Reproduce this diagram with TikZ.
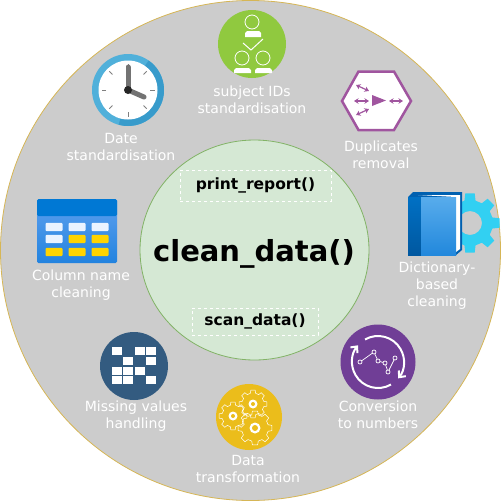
\documentclass[tikz,border=0pt]{standalone}
\usepackage{fontspec}
\setmainfont{DejaVu Sans}
\usepackage{xcolor}
\usetikzlibrary{arrows.meta}
\definecolor{ringfill}{HTML}{CCCCCC}
\definecolor{ringline}{HTML}{D6B656}
\definecolor{corefill}{HTML}{D5E8D4}
\definecolor{coreline}{HTML}{82B366}
\definecolor{idgreen}{HTML}{90C93F}
\definecolor{dupviolet}{HTML}{A0559F}
\definecolor{convviolet}{HTML}{703E96}
\definecolor{gearyellow}{HTML}{EBBD1B}
\definecolor{missblue}{HTML}{335B80}
\definecolor{gearcyan}{HTML}{32D0F2}
\definecolor{clocklight}{HTML}{50B0DA}
\definecolor{clockdark}{HTML}{389BCB}
\definecolor{bookdark}{HTML}{0060B0}
\definecolor{spinetop}{HTML}{0070C4}
\definecolor{spinebot}{HTML}{0058A0}
\definecolor{covertop}{HTML}{58ACEC}
\definecolor{coverbot}{HTML}{2288DC}
\definecolor{tabletop}{HTML}{5EA0EF}
\definecolor{tablebot}{HTML}{2283DF}
\definecolor{tablehead}{HTML}{0078D4}
\definecolor{cellpale}{HTML}{EAF3FF}
\definecolor{cellgold}{HTML}{FFD400}
\tikzset{
  steplabel/.style={text=white,align=center,inner sep=0pt,font=\fontsize{14}{17}\selectfont},
  funcbox/.style={draw=white,dashed,line width=0.5pt,inner sep=0pt,font=\fontsize{15.5}{18}\bfseries\selectfont},
  whiteline/.style={draw=white,line width=0.8pt},
}
% toothed wheel, path only, round the current origin
\newcommand{\cogpath}[2]{(-14:#2) \foreach \a in {0,45,...,315} {-- (\a-14:#2) -- (\a-9:#1) -- (\a+9:#1) -- (\a+14:#2)} -- cycle}
\begin{document}
\begin{tikzpicture}[x=1pt,y=-1pt]
\useasboundingbox (0,0) rectangle (501,501);
\draw[fill=ringfill,draw=ringline,line width=0.8pt] (250.5,250.5) circle [radius=250];
\draw[fill=corefill,draw=coreline,line width=0.8pt] (254.5,250) ellipse [x radius=114.5,y radius=110];
% centre texts
\node[inner sep=0pt,font=\fontsize{29}{34}\bfseries\selectfont] (clean) at (254,254) {clean\_data()};
\node[funcbox,minimum width=151pt,minimum height=31pt] (report) at (255.5,185.5) {print\_report()};
\node[funcbox,minimum width=126pt,minimum height=27pt] (scan) at (255,321.5) {scan\_data()};
% subject ids
\fill[idgreen] (252,44) circle [radius=34];
\draw[whiteline] (252,22) circle [radius=7] (242,58) circle [radius=7] (263,58) circle [radius=7];
\fill[white] (245,37) -- (245,33) -- (247,31) -- (259,31) -- (261,33) -- (261,37) -- cycle;
\fill[white] (234,73) -- (234,70) -- (236,68) -- (249,68) -- (251,70) -- (251,73) -- cycle;
\fill[white] (255,73) -- (255,70) -- (257,68) -- (270,68) -- (272,70) -- (272,73) -- cycle;
\draw[white,line width=1pt] (243,43) -- (251,50) -- (263,39);
\node[steplabel] (ids) at (252,99.5) {subject IDs\\standardisation};
% clock
\fill[clocklight] (128,90) circle [radius=36];
\fill[clockdark] (128,90) ++(-55:36) arc [start angle=-55,end angle=105,radius=36] -- (128,90) -- cycle;
\fill[white] (128,90) circle [radius=29.5];
\foreach \a in {0,45,...,315}
  \draw[gray,line width=1pt] (128,90) ++(\a:22) -- ++(\a:4.5);
\draw[black!55,line width=5pt,line cap=round] (128,90) -- (128,67);
\draw[black!55,line width=5pt,line cap=round] (128,90) -- (144,97);
\fill[black!85] (128,90) circle [radius=4];
\node[steplabel] (date) at (121,146.5) {Date\\standardisation};
% duplicates
\draw[dupviolet,fill=white,line width=2.5pt] (342,101) -- (358.5,71.5) -- (394,71.5) -- (411,101) -- (394,130) -- (358.5,130) -- cycle;
\fill[dupviolet] (372,95) -- (386,100.5) -- (372,106) -- cycle;
\foreach \xa/\ya/\xb/\yb in {354/101/369/101,389/101/403/101,356/85/369/91,356/115/369/109}
  \draw[dupviolet,line width=1.2pt,{Stealth[length=4.5pt,width=5.5pt]}-{Stealth[length=4.5pt,width=5.5pt]}] (\xa,\ya) -- (\xb,\yb);
\node[steplabel] (dups) at (381,154.5) {Duplicates\\removal};
% dictionary
\begin{scope}[shift={(470,223)}]
\fill[gearcyan,even odd rule] \cogpath{30}{23} (0,0) circle [radius=12];
\end{scope}
\fill[bookdark] (408,197) -- (413,192) -- (462,192) -- (462,250) -- (456,255) -- (408,255) -- cycle;
\fill[white] (418,195) -- (460,195) -- (460,249) -- (456,252) -- (456,197) -- cycle;
\shade[top color=spinetop,bottom color=spinebot] (408,197) rectangle (421,255);
\shade[top color=covertop,bottom color=coverbot] (421,197) rectangle (456,255);
\node[steplabel] (dict) at (437,286) {Dictionary-\\based\\cleaning};
% conversion
\fill[convviolet] (378,362) circle [radius=37.5];
\draw[white,line width=2pt,-{Straight Barb[length=5pt,width=9pt]}] (378,362) ++(-120:26) arc [start angle=-120,end angle=39,radius=26];
\draw[white,line width=2pt,-{Straight Barb[length=5pt,width=9pt]}] (378,362) ++(60:26) arc [start angle=60,end angle=220,radius=26];
\draw[white,line width=0.7pt] (360,362) -- (374,352) -- (378,361) -- (385,363) -- (388,372) -- (395,358);
\foreach \px/\py in {360/362,374/352,378/361,385/363,388/372,395/358}
  \draw[white,fill=convviolet,line width=0.7pt] (\px,\py) circle [radius=2];
\node[steplabel] (conv) at (378,414.5) {Conversion\\to numbers};
% gears
\fill[gearyellow] (249,417) circle [radius=33];
\foreach \cx/\cy/\ro/\ri/\hole in {233/416/14/11/3,253/404/14/11/3,255/428/17/13.5/4} {
  \begin{scope}[shift={(\cx,\cy)}]
  \draw[white,line width=0.5pt] \cogpath{\ro}{\ri};
  \fill[white] (0,0) circle [radius=\hole+1.5];
  \fill[gearyellow] (0,0) circle [radius=\hole-1];
  \end{scope}
}
\node[steplabel] (trans) at (248,468.5) {Data\\transformation};
% missing values
\fill[missblue] (134,366) circle [radius=34];
\foreach \px/\py in {117/351,140/351,151/351,128/361,151/361,117/371,128/371,140/371,117/380,128/380,151/380}
  \fill[white] (\px-5,\py-4) rectangle (\px+5,\py+4);
\node[steplabel] (miss) at (136,416.5) {Missing values\\handling};
% column table
\shade[rounded corners=1.5pt,top color=tabletop,bottom color=tablebot] (37,199) rectangle (117,263);
\fill[rounded corners=1.5pt,tablehead] (37,199) rectangle (117,216);
\foreach \px/\py/\cellcol in {54/227/cellpale,77/227/cellpale,100/227/cellpale,54/239/cellpale,77/239/cellgold,100/239/cellgold,54/252/cellgold,77/252/cellgold,100/252/cellgold}
  \fill[\cellcol,rounded corners=1pt] (\px-8.5,\py-4.2) rectangle (\px+8.5,\py+4.2);
\node[steplabel] (cols) at (81,285.5) {Column name\\cleaning};
\end{tikzpicture}
\end{document}
